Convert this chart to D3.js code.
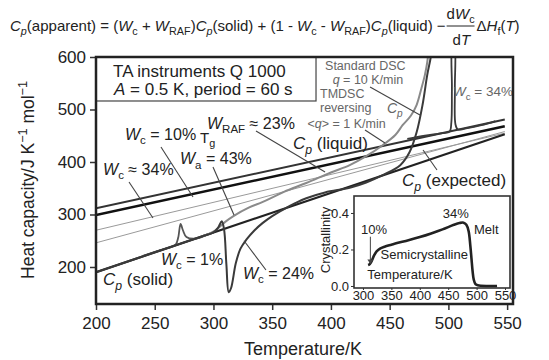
<!DOCTYPE html>
<html>
<head>
<meta charset="utf-8">
<script src="https://cdn.jsdelivr.net/npm/d3@7"></script>
<style>
  body { margin: 0; background: #fff; }
  svg { font-family: "Liberation Sans", Arial, Helvetica, sans-serif; display: block; }
</style>
</head>
<body>
<svg id="chart" width="549" height="360"></svg>
<script>
// ticks
const xTicks = [200, 250, 300, 350, 400, 450, 500, 550]
const yTicks = [200, 300, 400, 500, 600]
const insetXTicks = [300, 350, 400, 450, 500, 550]
const insetYTicks = [0.0, 0.2, 0.4]

// straight reference lines [T, Cp]
const cpLiquidUpper = [[200, 312], [548, 481]]
const cpLiquidLower = [[200, 299], [548, 468]]
const cpWc34 = [[200, 270], [548, 455]]
const cpExpected = [[200, 246], [548, 458]]
const cpSolid = [[200, 190], [548, 453]]

// measured curves [T, Cp]
const dscWc24 = [[200, 190], [250, 228], [290, 258], [300, 266], [304, 275], [307, 287], [309, 272],
  [311, 205], [313, 152], [315, 160], [319, 207], [323, 235], [328, 252], [335, 270], [342, 284],
  [350, 297], [359, 309], [370, 322], [379, 331], [395, 342], [416, 351], [430, 361], [444, 375],
  [459, 394], [467, 419], [473, 457], [478, 509], [482, 566], [485, 600], [486, 620]]
const tmdscRev = [[290, 258], [301, 269], [310, 286], [317, 297], [330, 313], [342, 324], [360, 343],
  [379, 360], [400, 380], [416, 394], [430, 411], [444, 432], [455, 452], [461, 470], [468, 488],
  [473, 509], [477, 540], [480, 566], [482, 590], [483, 612]]
const tmdscWc1 = [[240, 221], [255, 232], [265, 239], [268, 243], [270, 256], [272, 282], [274, 270],
  [277, 257], [285, 254], [295, 262], [300, 266]]
const meltWc34 = [[465, 444], [480, 450], [495, 455], [501, 458], [502.5, 475], [503, 540], [503.5, 620],
  [505, 620], [505.5, 540], [506, 472], [508, 462], [515, 464], [528, 470], [540, 478]]

// inset crystallinity [T, Wc]
const crystallinity = [[309, 0.115], [312, 0.12], [315, 0.135], [320, 0.17], [324, 0.19], [330, 0.205],
  [338, 0.215], [350, 0.226], [360, 0.235], [380, 0.25], [400, 0.268], [420, 0.288], [440, 0.31],
  [460, 0.335], [470, 0.345], [477, 0.347], [482, 0.335], [486, 0.3], [489, 0.22], [491, 0.15],
  [493, 0.08], [495, 0.035], [498, 0.01], [502, 0.004], [520, 0.0], [536, 0.0]]

const svg = d3.select('#chart')

const x = d3.scaleLinear().domain([200, 555]).range([96, 513])
const y = d3.scaleLinear().domain([129.5, 600]).range([304, 57])

// helper for text with italic / sub / sup pieces
function rich(sel, px, py, parts, size, color) {
  const t = sel.append('text')
    .attr('x', px).attr('y', py)
    .attr('font-size', size)
    .attr('fill', color || '#222')
  let shift = 0
  parts.forEach(p => {
    const s = p[0], f = p[1] || ''
    const small = f.includes('s') || f.includes('^')
    const target = f.includes('s') ? size * 0.28 : f.includes('^') ? -size * 0.42 : 0
    t.append('tspan')
      .attr('dy', target - shift)
      .attr('font-size', small ? size * 0.72 : size)
      .attr('font-style', f.includes('i') ? 'italic' : null)
      .text(s)
    shift = target
  })
  return t
}

// ---- formula on top
const fSize = 15
const formula = rich(svg, 10, 31, [
  ['C', 'i'], ['p', 'is'], ['(apparent) = ('], ['W', 'i'], ['c', 's'], [' + '], ['W', 'i'], ['RAF', 's'],
  [')'], ['C', 'i'], ['p', 'is'], ['(solid) + (1 - '], ['W', 'i'], ['c', 's'], [' - '], ['W', 'i'], ['RAF', 's'],
  [')'], ['C', 'i'], ['p', 'is'], ['(liquid) \u2212 ']
], fSize, '#222')
const fx = 10 + formula.node().getComputedTextLength() + 1
const num = rich(svg, fx, 19, [['d'], ['W', 'i'], ['c', 's']], fSize, '#222')
const fw = num.node().getComputedTextLength()
rich(svg, fx + fw / 2 - 8, 45, [['d'], ['T', 'i']], fSize, '#222')
svg.append('line').attr('x1', fx).attr('x2', fx + fw).attr('y1', 26).attr('y2', 26)
  .attr('stroke', '#222').attr('stroke-width', 1)
rich(svg, fx + fw + 2, 31, [['\u0394'], ['H', 'i'], ['f', 's'], ['('], ['T', 'i'], [')']], fSize, '#222')

// ---- axes
svg.append('g')
  .attr('transform', 'translate(96,0)')
  .call(d3.axisLeft(y).tickValues(yTicks).tickSize(6).tickPadding(4))
  .call(g => g.select('.domain').remove())
  .call(g => g.selectAll('line').attr('stroke', '#333').attr('stroke-width', 1.5))
  .call(g => g.selectAll('text').attr('font-size', 17).attr('fill', '#222')
    .attr('font-family', '"Liberation Sans", Arial, sans-serif'))

svg.append('g')
  .attr('transform', 'translate(0,304)')
  .call(d3.axisBottom(x).tickValues(xTicks).tickSize(6).tickPadding(7))
  .call(g => g.select('.domain').remove())
  .call(g => g.selectAll('line').attr('stroke', '#333').attr('stroke-width', 1.5))
  .call(g => g.selectAll('text').attr('font-size', 17).attr('fill', '#222')
    .attr('font-family', '"Liberation Sans", Arial, sans-serif'))

rich(svg, 0, 0, [['Heat capacity/J K'], ['\u22121', '^'], [' mol'], ['\u22121', '^']], 17.5, '#222')
  .attr('text-anchor', 'middle')
  .attr('transform', 'translate(34,180) rotate(-90)')

svg.append('text')
  .attr('x', 303).attr('y', 355)
  .attr('text-anchor', 'middle')
  .attr('font-size', 18).attr('fill', '#222')
  .text('Temperature/K')

// ---- plot content
svg.append('clipPath').attr('id', 'clip')
  .append('rect').attr('x', 96).attr('y', 57).attr('width', 417).attr('height', 247)

const plot = svg.append('g').attr('clip-path', 'url(#clip)')
const line = d3.line().x(d => x(d[0])).y(d => y(d[1]))
const curve = d3.line().x(d => x(d[0])).y(d => y(d[1])).curve(d3.curveCatmullRom.alpha(0.5))

const lines = [
  { data: cpWc34, color: '#9a9a9a', w: 1, f: line },
  { data: cpExpected, color: '#9a9a9a', w: 1, f: line },
  { data: cpLiquidUpper, color: '#333', w: 2, f: line },
  { data: cpLiquidLower, color: '#111', w: 2.6, f: line },
  { data: cpSolid, color: '#222', w: 2.2, f: line },
  { data: tmdscWc1, color: '#555', w: 1.8, f: curve },
  { data: tmdscRev, color: '#8a8a8a', w: 2, f: curve },
  { data: dscWc24, color: '#3a3a3a', w: 2, f: curve },
  { data: meltWc34, color: '#3a3a3a', w: 1.8, f: curve }
]

plot.selectAll('path.series')
  .data(lines)
  .enter()
  .append('path')
  .attr('class', 'series')
  .attr('d', d => d.f(d.data))
  .attr('fill', 'none')
  .attr('stroke', d => d.color)
  .attr('stroke-width', d => d.w)
  .attr('stroke-linejoin', 'round')

// ---- annotation box
svg.append('rect')
  .attr('x', x(200)).attr('y', y(600))
  .attr('width', x(387.3) - x(200)).attr('height', y(516.2) - y(600))
  .attr('fill', '#fff').attr('stroke', '#444').attr('stroke-width', 1.2)
svg.append('text').attr('x', x(214.5)).attr('y', y(561.9))
  .attr('font-size', 17).attr('fill', '#222').text('TA instruments Q 1000')
rich(svg, x(215.3), y(527.6), [['A', 'i'], [' = 0.5 K, period = 60 s']], 17, '#222')

// pointer lines [T1, Cp1, T2, Cp2]
const pointers = [
  [255.3, 428.6, 282.6, 333.3],
  [228.1, 361.9, 248.5, 293.3],
  [299.6, 390.5, 317.5, 299.0],
  [336.2, 459.0, 395.0, 380.9],
  [433.3, 542.9, 475.8, 489.5],
  [429.0, 461.0, 446.0, 436.2],
  [478.4, 422.8, 490.3, 384.7],
  [326.0, 250.0, 344.7, 194.3]
]
svg.selectAll('line.ptr')
  .data(pointers)
  .enter()
  .append('line')
  .attr('class', 'ptr')
  .attr('x1', d => x(d[0])).attr('y1', d => y(d[1]))
  .attr('x2', d => x(d[2])).attr('y2', d => y(d[3]))
  .attr('stroke', '#444').attr('stroke-width', 1.1)

// labels
const lab = 16
rich(svg, x(224.7), y(441.9), [['W', 'i'], ['c', 's'], [' = 10%']], lab)
rich(svg, x(288.5), y(437), [['T'], ['g', 's']], 15)
rich(svg, x(271.5), y(396), [['W', 'i'], ['a', 's'], [' = 43%']], lab)
rich(svg, x(206.0), y(375.2), [['W', 'i'], ['c', 's'], [' \u2248 34%']], lab)
rich(svg, x(294.5), y(462.9), [['W', 'i'], ['RAF', 's'], [' \u2248 23%']], lab)
rich(svg, x(367.7), y(424.8), [['C', 'i'], ['p', 'is'], [' (liquid)']], 17)
rich(svg, x(460.5), y(354.3), [['C', 'i'], ['p', 'is'], [' (expected)']], 17)
rich(svg, x(255.3), y(203.8), [['W', 'i'], ['c', 's'], [' = 1%']], lab)
rich(svg, x(206.0), y(165.7), [['C', 'i'], ['p', 'is'], [' (solid)']], 17)
rich(svg, x(325.1), y(177.1), [['W', 'i'], ['c', 's'], [' = 24%']], lab)

const grey = '#666'
const gs = 12.5
svg.append('text').attr('x', x(395)).attr('y', y(575)).attr('font-size', gs).attr('fill', grey).text('Standard DSC')
rich(svg, x(401.5), y(548.5), [['q', 'i'], [' = 10 K/min']], gs, grey)
svg.append('text').attr('x', x(390.7)).attr('y', y(521.5)).attr('font-size', gs).attr('fill', grey).text('TMDSC')
svg.append('text').attr('x', x(390.7)).attr('y', y(494.5)).attr('font-size', gs).attr('fill', grey).text('reversing')
rich(svg, x(447.7), y(493.3), [['C', 'i'], ['p', 'is']], 14, grey)
rich(svg, x(380), y(465.5), [['<'], ['q', 'i'], ['> = 1 K/min']], gs, grey)
rich(svg, x(503.9), y(525.7), [['W', 'i'], ['c', 's'], [' = 34%']], 13.5, grey)

// frame
svg.append('rect')
  .attr('x', 96).attr('y', 57).attr('width', 417).attr('height', 247)
  .attr('fill', 'none').attr('stroke', '#222').attr('stroke-width', 2.5)

// ---- inset
const ix = d3.scaleLinear().domain([284.2, 558.8]).range([354, 510])
const iy = d3.scaleLinear().domain([-0.011, 0.493]).range([288, 196])

svg.append('rect')
  .attr('x', 354).attr('y', 196).attr('width', 156).attr('height', 92)
  .attr('fill', '#fff').attr('stroke', '#333').attr('stroke-width', 1.6)

svg.append('g')
  .attr('transform', 'translate(354,0)')
  .call(d3.axisLeft(iy).tickValues(insetYTicks).tickSize(3).tickPadding(2).tickFormat(d3.format('.1f')))
  .call(g => g.select('.domain').remove())
  .call(g => g.selectAll('line').attr('stroke', '#333'))
  .call(g => g.selectAll('text').attr('font-size', 13).attr('fill', '#222')
    .attr('font-family', '"Liberation Sans", Arial, sans-serif'))

svg.append('g')
  .attr('transform', 'translate(0,288)')
  .call(d3.axisBottom(ix).tickValues(insetXTicks).tickSize(2).tickPadding(1))
  .call(g => g.select('.domain').remove())
  .call(g => g.selectAll('line').attr('stroke', '#333'))
  .call(g => g.selectAll('text').attr('font-size', 13).attr('fill', '#222')
    .attr('font-family', '"Liberation Sans", Arial, sans-serif'))

svg.append('text')
  .attr('text-anchor', 'middle')
  .attr('transform', 'translate(330,240) rotate(-90)')
  .attr('font-size', 13).attr('fill', '#222')
  .text('Crystallinity')

svg.append('path')
  .attr('d', d3.line().x(d => ix(d[0])).y(d => iy(d[1])).curve(d3.curveCatmullRom.alpha(0.5))(crystallinity))
  .attr('fill', 'none').attr('stroke', '#222').attr('stroke-width', 2.6)

svg.append('line')
  .attr('x1', ix(313)).attr('y1', iy(0.27))
  .attr('x2', ix(313)).attr('y2', iy(0.125))
  .attr('stroke', '#444').attr('stroke-width', 1)
svg.append('path')
  .attr('d', `M${ix(313) - 3},${iy(0.145)} L${ix(313)},${iy(0.12)} L${ix(313) + 3},${iy(0.145)} Z`)
  .attr('fill', '#444')

const insetLabels = [
  ['10%', 296.5, 0.285],
  ['34%', 440.5, 0.373],
  ['Melt', 495.5, 0.285],
  ['Semicrystalline', 330.9, 0.148],
  ['Temperature/K', 307.7, 0.038]
]
svg.selectAll('text.il')
  .data(insetLabels)
  .enter()
  .append('text')
  .attr('class', 'il')
  .attr('x', d => ix(d[1])).attr('y', d => iy(d[2]))
  .attr('font-size', 13).attr('fill', '#222')
  .text(d => d[0])
</script>
</body>
</html>
